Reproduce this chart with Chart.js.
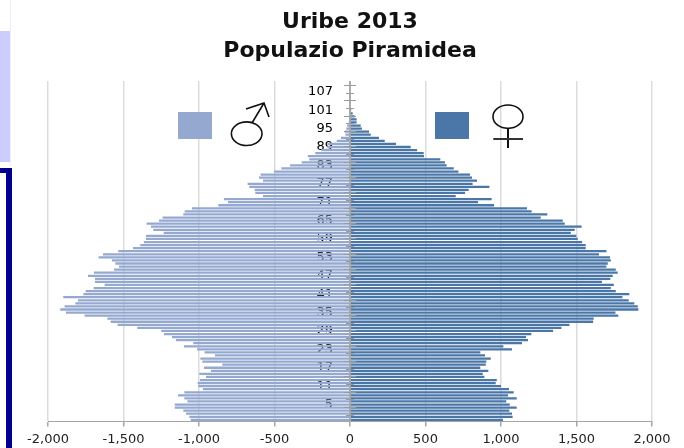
<!DOCTYPE html>
<html>
<head>
<meta charset="utf-8">
<title>Uribe 2013</title>
<script src="https://cdn.jsdelivr.net/npm/chart.js@4"></script>
<style>
  html, body { margin:0; padding:0; background:#fff; }
  #wrap { position:relative; width:684px; height:448px; overflow:hidden; }
  #chart { position:absolute; left:0; top:0; }
  #symbols { position:absolute; left:0; top:0; }
  .deco, .swatch { position:absolute; }
  .swatch { top:112px; width:34px; height:27px; }
</style>
</head>
<body>
<div id="wrap">
  <canvas id="chart" width="684" height="448"></canvas>
  <div class="deco" style="left:0;top:31px;width:10px;height:131px;background:#ccccff"></div>
  <div class="deco" style="left:10px;top:0;width:1px;height:166px;background:#eeeeff"></div>
  <div class="deco" style="left:0;top:168px;width:12px;height:5px;background:#00008b"></div>
  <div class="deco" style="left:6px;top:168px;width:6px;height:280px;background:#00008b"></div>
  <div class="swatch" style="left:178px;background:#95a9d0"></div>
  <div class="swatch" style="left:435px;background:#4a76a8"></div>
  <svg id="symbols" width="684" height="448" fill="none" stroke="#111" stroke-width="1.6">
    <ellipse cx="246.7" cy="133.7" rx="15.3" ry="11.8"/>
    <path d="M252 123 L264 103 M246 109 L264 103 L269 117"/>
    <ellipse cx="508" cy="116.7" rx="15" ry="11.7"/>
    <path d="M508 128.4 V148" stroke-width="2"/>
    <path d="M493.3 139 H523" stroke="#333" stroke-width="2"/>
  </svg>
</div>
<script>
const maleColor = "#95a9d0";
const femaleColor = "#4a76a8";

const titleLines = ["Uribe 2013", "Populazio Piramidea"];
const xTicks = [-2000, -1500, -1000, -500, 0, 500, 1000, 1500, 2000];

// one row per age, 0 to 110
const ages = [];
for(let a=0; a<=110; a++) ages.push(String(a));

const male = [
  -1055,-1064,-1086,-1104,-1161,-1161,-1077,-1097,-1139,-1097,
  -974,-1005,-1009,-994,-954,-998,-921,-967,-846,-978,
  -991,-894,-963,-1013,-1100,-1038,-1153,-1179,-1232,-1250,
  -1409,-1539,-1585,-1607,-1758,-1881,-1919,-1890,-1819,-1802,
  -1899,-1766,-1751,-1698,-1625,-1689,-1689,-1735,-1696,-1563,
  -1530,-1554,-1577,-1665,-1636,-1535,-1437,-1389,-1365,-1351,
  -1351,-1234,-1303,-1318,-1347,-1265,-1241,-1104,-1095,-1047,
  -872,-808,-835,-576,-627,-631,-667,-678,-576,-603,
  -592,-503,-455,-397,-320,-270,-280,-230,-190,-150,
  -150,-88,-60,-30,-35,-25,-20,-8,-4,-2,
  0,0,0,0,0,0,0,0,0,0,0
];

const female = [
  1013,1077,1073,1055,1104,1058,1035,1104,1047,1084,
  1053,1000,965,972,890,879,916,863,899,903,
  932,894,863,1073,1016,1139,1179,1166,1201,1345,
  1400,1453,1610,1614,1777,1758,1910,1906,1883,1846,
  1804,1850,1760,1727,1747,1669,1724,1740,1773,1760,
  1698,1707,1727,1722,1649,1698,1561,1561,1537,1508,
  1499,1462,1488,1534,1422,1409,1263,1307,1203,1172,
  954,848,938,700,762,786,923,812,841,808,
  795,718,687,640,629,598,490,488,444,402,
  305,230,192,137,126,79,71,44,44,31,
  18,8,5,0,0,0,0,0,0,0,0
];

// centre line and its tick marks, every 2.5 rows, long and short in turn
const centreTicks = {
  id: "centreTicks",
  afterDatasetsDraw(chart){
    const { ctx, chartArea, scales:{ x, y } } = chart;
    const x0 = x.getPixelForValue(0);
    ctx.save();
    ctx.strokeStyle = "#9a9a9a";
    ctx.lineWidth = 1.5;
    ctx.beginPath();
    ctx.moveTo(x0, chartArea.top);
    ctx.lineTo(x0, chartArea.bottom);
    ctx.stroke();
    ctx.lineWidth = 1;
    let i = 0;
    for(let a=109.2; a>=0; a-=2.5){
      const py = Math.round(y.getPixelForValue(a)) + 0.5;
      const half = (i % 2 === 0) ? 6 : 4;
      ctx.beginPath();
      ctx.moveTo(x0-half, py);
      ctx.lineTo(x0+half, py);
      ctx.stroke();
      i++;
    }
    ctx.restore();
  }
};

new Chart(document.getElementById("chart"), {
  type: "bar",
  data: {
    labels: ages,
    datasets: [
      { label:"Gizonak", data:male, backgroundColor:maleColor },
      { label:"Emakumeak", data:female, backgroundColor:femaleColor }
    ]
  },
  options: {
    indexAxis: "y",
    responsive: false,
    animation: false,
    layout: { padding:{ left:48, right:32, top:8, bottom:-4 } },
    datasets: { bar:{ categoryPercentage:1, barPercentage:0.74 } },
    plugins: {
      legend: { display:false },
      tooltip: { enabled:false },
      title: {
        display: true,
        text: titleLines,
        color: "#111",
        font: { family:"DejaVu Sans", size:22, weight:"bold", lineHeight:1.32 },
        padding: { top:0, bottom:15 }
      }
    },
    scales: {
      x: {
        type: "linear",
        min: -2000,
        max: 2000,
        afterBuildTicks(axis){ axis.ticks = xTicks.map(v => ({ value:v })); },
        grid: { color:"#dcdcdc", lineWidth:1.5, tickColor:"#a6a6a6", tickLength:5 },
        border: { display:true, color:"#a6a6a6" },
        ticks: { color:"#222", font:{ family:"DejaVu Sans", size:13 }, padding:5, maxRotation:0 }
      },
      y: {
        type: "category",
        reverse: true,
        stacked: true,
        position: { x:-113 }, // puts the age labels just left of the centre line
        z: 2,
        grid: { display:false },
        border: { display:false },
        ticks: {
          color: "#000",
          font: { family:"DejaVu Sans", size:13 },
          autoSkip: false,
          maxRotation: 0,
          callback(v){ return (v+1) % 6 === 0 && v > 0 ? this.getLabelForValue(v) : ""; }
        }
      }
    }
  },
  plugins: [centreTicks]
});
</script>
</body>
</html>
